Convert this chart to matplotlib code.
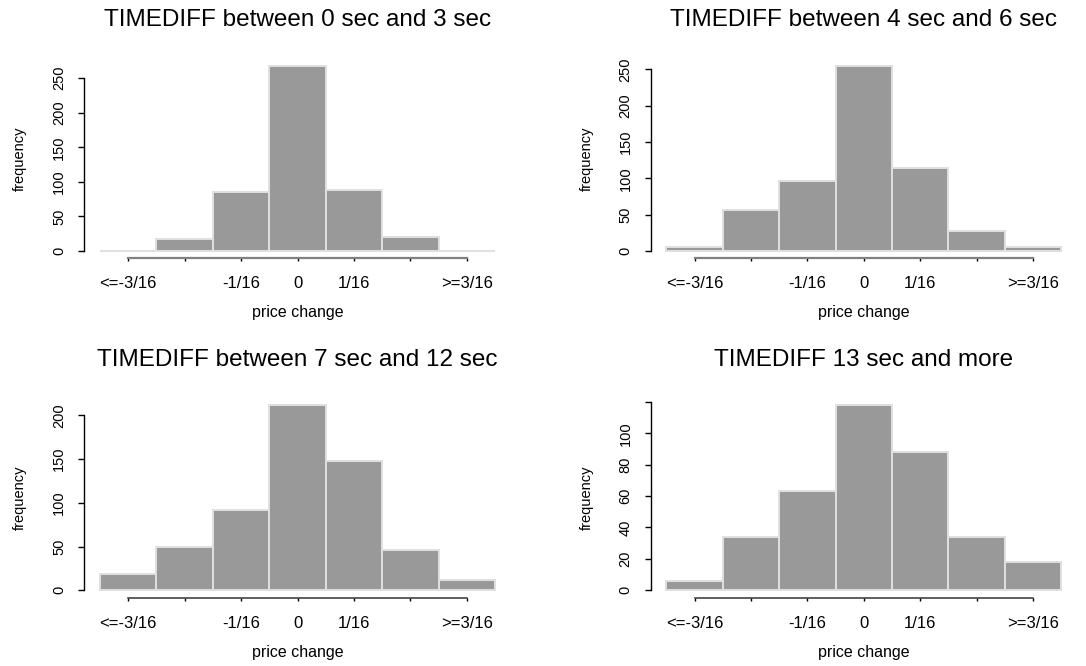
import numpy as np
import matplotlib
matplotlib.use('Agg')
import matplotlib.pyplot as plt

plt.rcParams['font.family'] = ['Liberation Sans', 'DejaVu Sans']

# price change categories (in 1/16 steps)
categories = ['<=-3/16', '-2/16', '-1/16', '0', '1/16', '2/16', '>=3/16']
tick_labels = ['<=-3/16', '', '-1/16', '0', '1/16', '', '>=3/16']

titles = ['TIMEDIFF between 0 sec and 3 sec',
          'TIMEDIFF between 4 sec and 6 sec',
          'TIMEDIFF between 7 sec and 12 sec',
          'TIMEDIFF 13 sec and more']

freq_0_3 = [0, 18, 86, 268, 88, 20, 0]
freq_4_6 = [5, 57, 96, 255, 114, 28, 6]
freq_7_12 = [19, 50, 92, 212, 148, 46, 12]
freq_13_up = [6, 34, 63, 118, 88, 34, 18]

all_freqs = [freq_0_3, freq_4_6, freq_7_12, freq_13_up]
y_ticks = [np.arange(0, 251, 50), np.arange(0, 251, 50),
           np.arange(0, 201, 50), np.arange(0, 121, 20)]

W, H = 1086, 666
fig = plt.figure(figsize=(W / 100, H / 100), dpi=100)

# plot regions in pixels: left, top, width, height
regions = [(84.2, 58.3, 426.6, 200.1), (650.5, 58.3, 426.6, 200.1),
           (84.2, 397.6, 426.6, 200.1), (650.5, 397.6, 426.6, 200.1)]

for i in range(4):
    l, t, w, h = regions[i]
    ax = fig.add_axes([l / W, 1 - (t + h) / H, w / W, h / H])
    freqs = all_freqs[i]
    x = np.arange(len(categories))
    ax.bar(x, freqs, width=1.0, color='#999999', edgecolor='#e0e0e0', linewidth=1.4)
    n = len(categories)
    ax.set_xlim(-0.5 - 0.04 * n, n - 0.5 + 0.04 * n)
    top = max(freqs)
    ax.set_ylim(-0.04 * top, 1.04 * top)

    for s in ['top', 'right']:
        ax.spines[s].set_visible(False)
    ax.spines['left'].set_bounds(y_ticks[i][0], y_ticks[i][-1])
    ax.spines['bottom'].set_bounds(0, n - 1)
    axis_col = '#808080' if i < 2 else '#333333'
    ax.spines['bottom'].set_color(axis_col)
    ax.spines['bottom'].set_linewidth(1.6 if i < 2 else 1.1)
    ax.spines['left'].set_linewidth(1.0)

    ax.set_xticks(x)
    ax.set_xticklabels(tick_labels, fontsize=12)
    ylabels = [str(v) for v in y_ticks[i]]
    if i == 3:
        ylabels[-1] = ''
    ax.set_yticks(y_ticks[i])
    ax.set_yticklabels(ylabels, fontsize=10.5, rotation=90, va='center')
    ax.tick_params(axis='x', length=2.5, width=1, pad=10.5, color='black')
    ax.tick_params(axis='y', length=4, width=1, pad=9)

    ax.set_xlabel('price change', fontsize=11.5, labelpad=10)
    ax.set_ylabel('frequency', fontsize=10.5, labelpad=18)
    ax.set_title(titles[i], fontsize=17.5, pad=23)

fig.savefig('out.png', dpi=100)
